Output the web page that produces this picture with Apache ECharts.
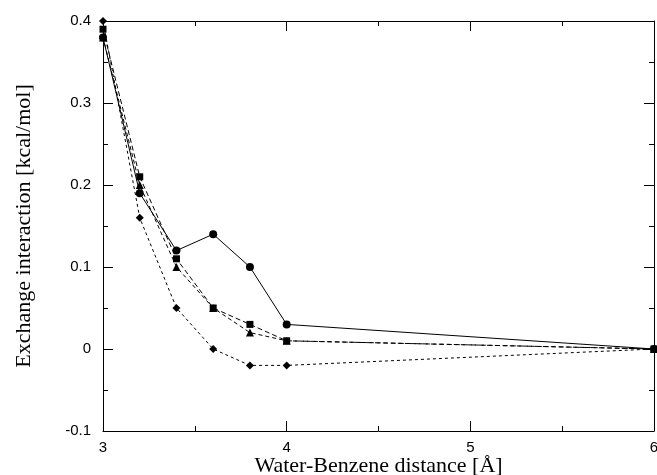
<!DOCTYPE html>
<html><head><meta charset="utf-8">
<script src="https://cdn.jsdelivr.net/npm/echarts@6/dist/echarts.min.js"></script>
<style>html,body{margin:0;padding:0;background:#fff}#c{width:657px;height:475px}</style>
</head><body><div id="c"></div>
<script>
const distances = [3.0, 3.2, 3.4, 3.6, 3.8, 4.0, 6.0];
const circleVals   = [0.38, 0.19, 0.12, 0.14, 0.10, 0.03, 0.00];
const squareVals   = [0.39, 0.21, 0.11, 0.05, 0.03, 0.01, 0.00];
const triangleVals = [0.38, 0.20, 0.10, 0.05, 0.02, 0.01, 0.00];
const diamondVals  = [0.40, 0.16, 0.05, 0.00, -0.02, -0.02, 0.00];
const xTicks = [3, 4, 5, 6];
const yTicks = [-0.1, 0, 0.1, 0.2, 0.3, 0.4];

function pairs(v){ return distances.map((d,i)=>[d, v[i]]); }
const chart = echarts.init(document.getElementById('c'), null, {renderer:'canvas'});
const lineCol = '#000';
function axisBase(){
  return {
    axisLine:{show:true, onZero:false, lineStyle:{color:lineCol, width:1}},
    axisTick:{show:true, inside:true, length:10, lineStyle:{color:lineCol}},
    minorTick:{show:true, splitNumber:2, length:5, lineStyle:{color:lineCol}},
    splitLine:{show:false}
  };
}
function mk(name, vals, sym, size, type){
  return {
    name, type:'line', data:pairs(vals), symbol:sym, symbolSize:size,
    itemStyle:{color:'#000'}, lineStyle:{color:'#000', width:1, type:type},
    animation:false, xAxisIndex:0, yAxisIndex:0
  };
}
chart.setOption({
  backgroundColor:'#fff',
  animation:false,
  grid:{left:103, right:3, top:21, bottom:44, containLabel:false, outerBoundsMode:'none'},
  xAxis:[
    Object.assign({type:'value', min:3, max:6, interval:1, position:'bottom',
      name:'Water-Benzene distance [Å]', nameLocation:'middle', nameGap:24, nameMoveOverlap:false,
      nameTextStyle:{fontFamily:'Liberation Serif', fontSize:22, color:'#000'},
      axisLabel:{fontFamily:'Liberation Sans', fontSize:15, color:'#000', margin:9,
        formatter:v=>xTicks.includes(v)?String(v):''}}, axisBase()),
    Object.assign({type:'value', min:3, max:6, interval:1, position:'top',
      axisLabel:{show:false}}, axisBase())
  ],
  yAxis:[
    Object.assign({type:'value', min:-0.1, max:0.4, interval:0.1, position:'left',
      name:'Exchange interaction [kcal/mol]', nameLocation:'middle', nameGap:68, nameMoveOverlap:false,
      nameTextStyle:{fontFamily:'Liberation Serif', fontSize:22, color:'#000'},
      axisLabel:{fontFamily:'Liberation Sans', fontSize:15, color:'#000', margin:12,
        formatter:v=>{ const r=Math.round(v*10)/10; return yTicks.includes(r)?(r===0?'0':r.toFixed(1)):''; }}}, axisBase()),
    Object.assign({type:'value', min:-0.1, max:0.4, interval:0.1, position:'right',
      axisLabel:{show:false}}, axisBase())
  ],
  series:[
    mk('circle', circleVals, 'circle', 8, 'solid'),
    mk('square', squareVals, 'rect', 7, [5,3]),
    mk('triangle', triangleVals, 'triangle', 8, [4,3]),
    mk('diamond', diamondVals, 'diamond', 8, [3,3])
  ]
});
</script></body></html>
